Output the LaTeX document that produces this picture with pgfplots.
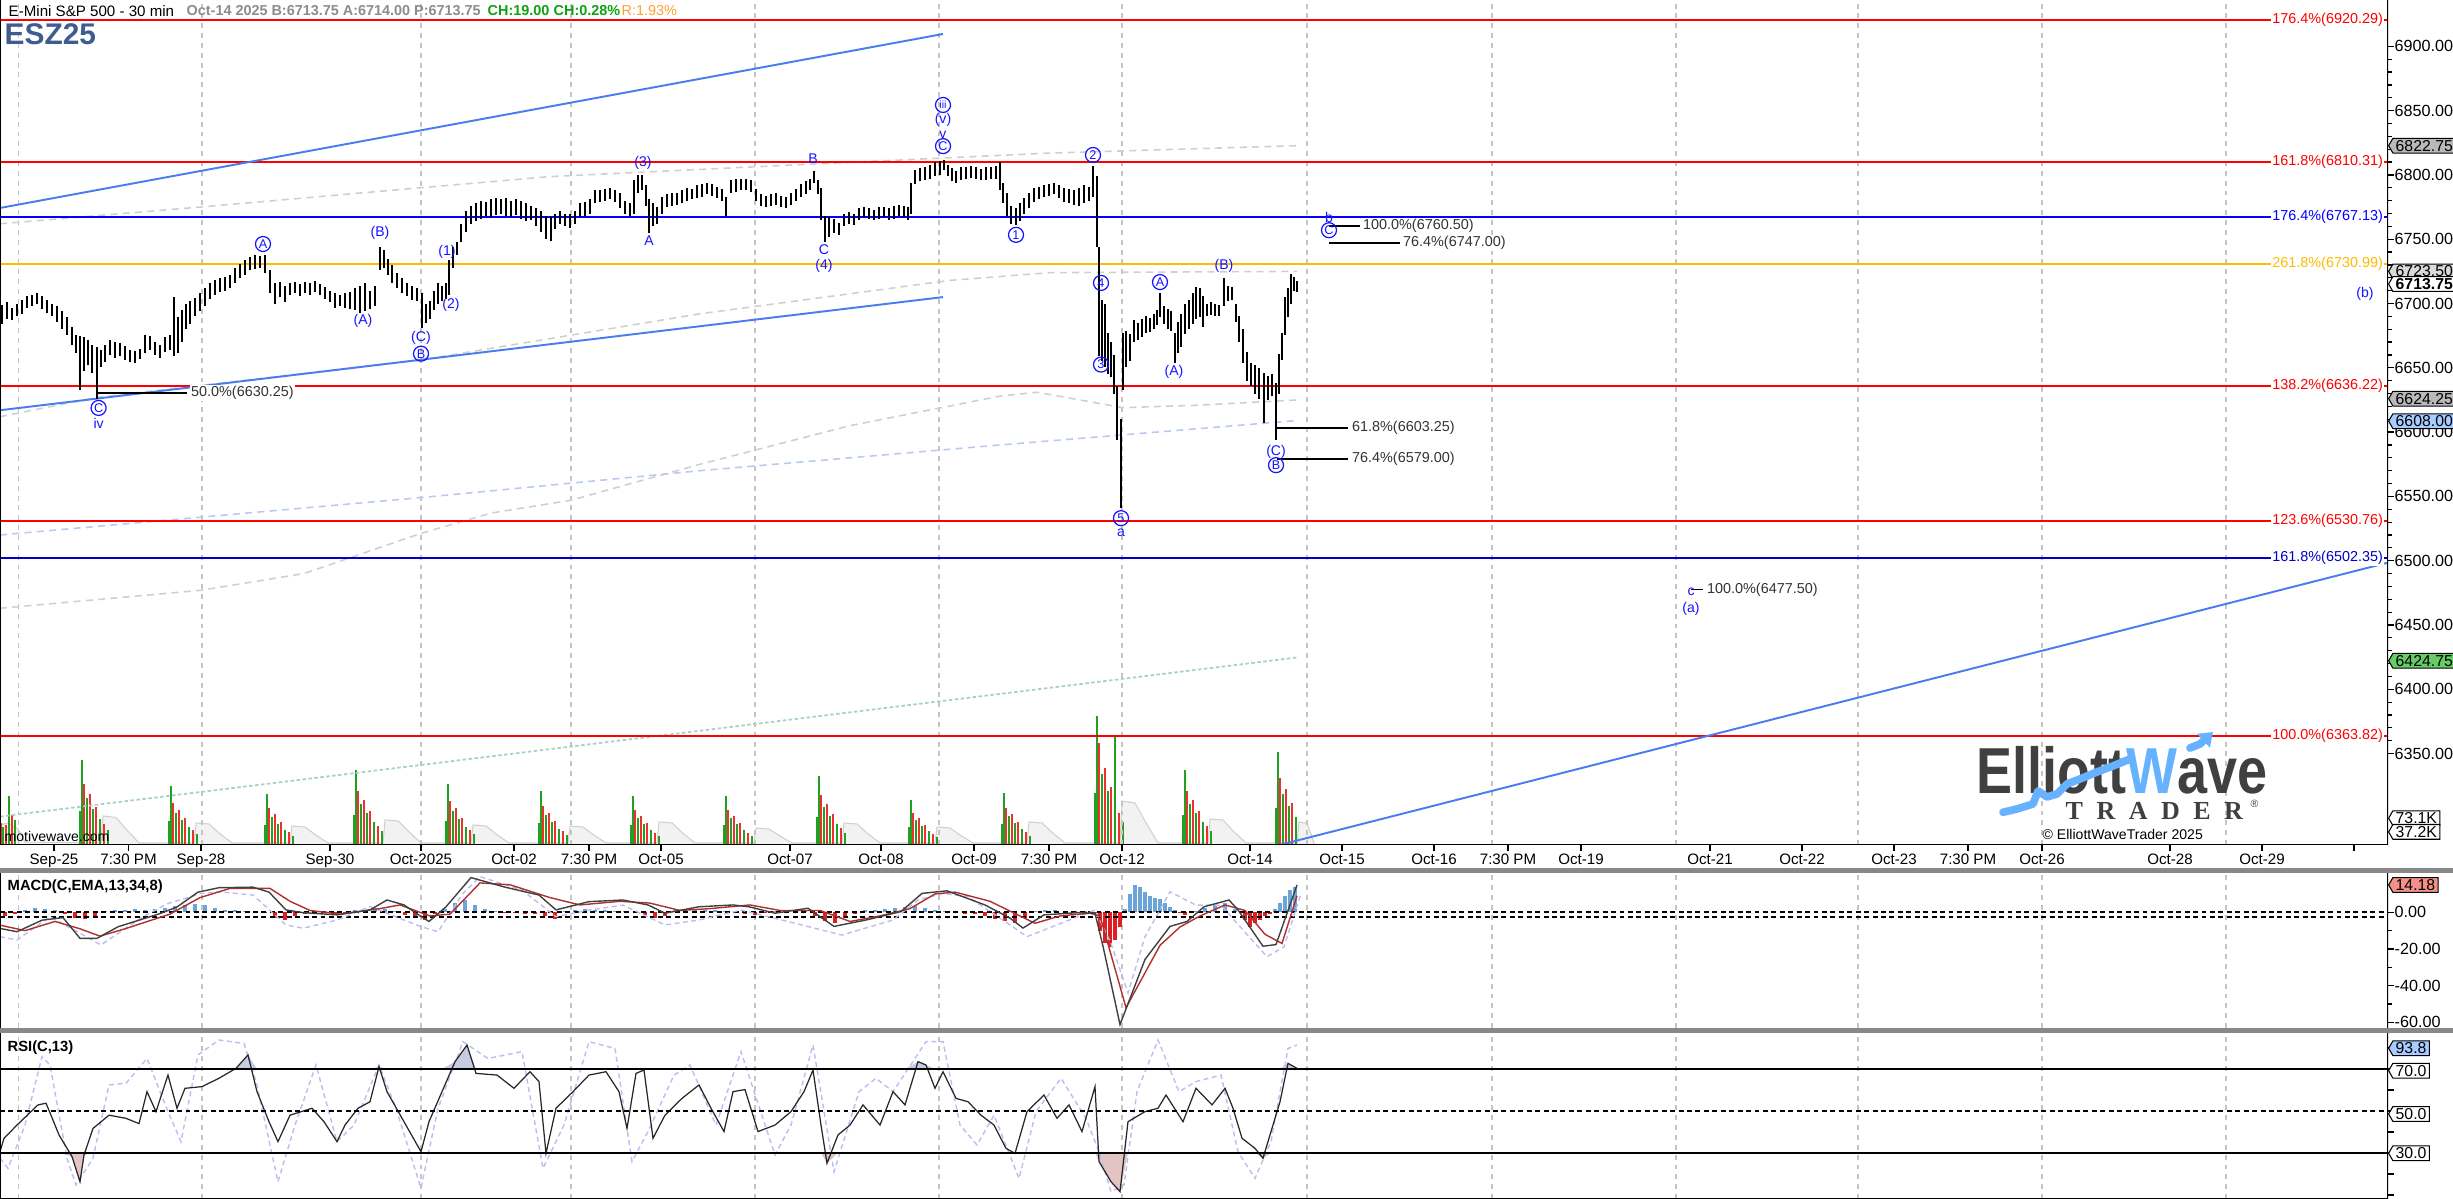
\documentclass[border=0pt]{standalone}
\usepackage{pgfplots}
\pgfplotsset{compat=1.18}
\usepackage{pgfplotstable}
\usepackage{fontspec}
\setmainfont{Liberation Sans}
\setsansfont{Liberation Sans}
\newfontfamily\serifbf{Liberation Serif}
\usetikzlibrary{shapes.symbols,arrows.meta}
\usepgfplotslibrary{fillbetween}

\newcommand\fs[1]{\fontsize{#1}{#1}\selectfont}
\definecolor{wave}{HTML}{1414FF}
\definecolor{fibred}{HTML}{FF0000}
\definecolor{fibblue}{HTML}{0000FF}
\definecolor{fibdblue}{HTML}{0000C8}
\definecolor{fiborange}{HTML}{FFBB00}
\definecolor{chan}{HTML}{4A7BF0}
\definecolor{magray}{HTML}{CFCFCF}
\definecolor{malblue}{HTML}{B8CAF2}
\definecolor{mateal}{HTML}{A4D2C8}
\definecolor{volg}{HTML}{22A022}
\definecolor{volr}{HTML}{F03030}
\definecolor{histb}{HTML}{6AA4D8}
\definecolor{histr}{HTML}{E02020}
\definecolor{sepgray}{HTML}{888888}
\definecolor{hdrgray}{HTML}{8C8C8C}
\definecolor{hdrgreen}{HTML}{10A010}
\definecolor{hdrorange}{HTML}{FFA030}
\definecolor{esz}{HTML}{3F5C8F}
\definecolor{logogray}{HTML}{404040}
\definecolor{logoblue}{HTML}{66B2FF}
\definecolor{gridc}{HTML}{C4C4C4}
\definecolor{hump}{HTML}{F2F2F2}
\definecolor{humpedge}{HTML}{D0D0D0}
\definecolor{taglblue}{HTML}{A8CCFF}
\definecolor{taggreen}{HTML}{66CC66}
\definecolor{tagsalmon}{HTML}{F4908A}
\definecolor{rsiup}{HTML}{C8CCE2}
\definecolor{rsidn}{HTML}{E2C4C4}
\definecolor{rsidash}{HTML}{BCBCF2}
\definecolor{sigred}{HTML}{B03030}
\definecolor{macdblk}{HTML}{404040}

\pgfplotstableread{
x lo hi
2 6684 6699
7 6688 6701
12 6687 6697
17 6690 6700
22 6692 6703
27 6697 6706
32 6698 6707
37 6700 6708
42 6696 6706
47 6693 6703
52 6690 6700
57 6686 6698
62 6680 6694
67 6676 6690
72 6668 6682
76 6662 6676
80 6633 6675
84 6648 6674
88 6652 6672
92 6646 6668
97 6626 6666
101 6651 6664
105 6655 6668
110 6660 6672
115 6658 6670
120 6659 6669
125 6656 6667
130 6655 6664
135 6654 6663
140 6657 6665
145 6662 6676
150 6664 6675
155 6660 6670
160 6658 6668
165 6662 6674
170 6664 6676
174 6659 6705
178 6662 6690
182 6670 6695
186 6680 6700
190 6684 6702
195 6690 6704
200 6694 6708
205 6698 6712
210 6704 6716
215 6707 6718
220 6709 6720
225 6710 6721
230 6712 6722
235 6716 6728
240 6720 6731
245 6722 6734
250 6726 6736
255 6727 6738
260 6728 6737
265 6724 6738
270 6708 6726
275 6700 6716
280 6705 6717
285 6701 6714
290 6707 6716
295 6708 6717
300 6706 6715
305 6708 6717
310 6707 6716
315 6709 6718
320 6707 6715
325 6704 6713
330 6701 6710
335 6697 6708
340 6698 6707
345 6697 6708
350 6696 6709
355 6695 6712
360 6693 6714
365 6694 6716
370 6696 6710
375 6698 6714
380 6726 6744
384 6728 6742
388 6722 6735
392 6716 6730
397 6712 6724
402 6708 6720
407 6706 6716
412 6703 6714
417 6702 6712
422 6681 6708
426 6685 6700
430 6688 6702
434 6695 6710
438 6700 6716
442 6702 6714
446 6704 6716
449 6707 6734
453 6728 6744
457 6738 6748
461 6748 6762
466 6756 6772
471 6762 6776
476 6764 6778
481 6766 6780
486 6768 6779
491 6767 6781
496 6769 6782
501 6770 6781
506 6768 6782
511 6767 6780
516 6769 6781
521 6766 6780
526 6764 6778
531 6765 6776
536 6760 6774
541 6756 6772
546 6750 6768
551 6749 6767
555 6758 6770
560 6762 6772
565 6760 6770
570 6759 6770
575 6762 6772
580 6767 6778
585 6768 6779
590 6770 6781
595 6778 6788
600 6779 6788
605 6780 6789
610 6781 6790
615 6779 6788
620 6774 6786
625 6770 6780
630 6768 6778
634 6770 6796
638 6786 6800
642 6788 6800
646 6776 6792
649 6755 6781
653 6760 6778
657 6762 6775
662 6770 6783
667 6775 6785
672 6776 6786
677 6777 6786
682 6778 6788
687 6780 6790
692 6781 6789
697 6782 6792
702 6783 6793
707 6785 6794
712 6784 6793
717 6782 6791
722 6780 6789
726 6768 6783
731 6786 6796
736 6787 6797
741 6788 6797
746 6788 6797
751 6787 6796
756 6780 6789
761 6776 6785
766 6775 6784
771 6776 6785
776 6777 6786
781 6775 6784
786 6774 6783
791 6777 6786
796 6780 6789
801 6783 6793
806 6785 6795
810 6788 6797
814 6794 6803
818 6785 6796
821 6765 6790
825 6748 6768
829 6752 6767
834 6755 6766
839 6753 6763
844 6760 6770
849 6762 6771
854 6761 6770
859 6765 6774
864 6767 6775
869 6766 6774
874 6765 6773
879 6766 6775
884 6767 6775
889 6765 6774
894 6766 6776
899 6768 6777
904 6767 6776
908 6765 6775
911 6770 6794
915 6793 6804
920 6795 6805
925 6796 6806
930 6797 6808
935 6799 6810
940 6800 6811
944 6804 6812
948 6799 6808
952 6795 6805
956 6794 6803
961 6796 6806
966 6797 6806
971 6798 6807
976 6797 6806
981 6796 6805
986 6796 6806
991 6797 6806
996 6797 6807
1000 6788 6810
1003 6778 6794
1007 6768 6786
1011 6762 6776
1016 6761 6774
1020 6764 6778
1024 6770 6782
1029 6774 6786
1034 6779 6790
1039 6781 6791
1044 6783 6792
1049 6784 6793
1054 6785 6794
1059 6782 6792
1064 6779 6790
1069 6778 6789
1074 6777 6788
1079 6776 6790
1084 6778 6792
1089 6780 6791
1093 6783 6807
1097 6744 6799
1099 6659 6744
1102 6655 6703
1105 6651 6700
1108 6645 6677
1111 6643 6670
1114 6630 6660
1117 6594 6636
1121 6541 6610
1123 6633 6677
1126 6651 6679
1130 6655 6676
1134 6670 6687
1138 6672 6685
1142 6674 6688
1146 6677 6690
1150 6678 6689
1154 6680 6692
1157 6683 6695
1160 6690 6708
1164 6684 6698
1168 6680 6696
1171 6679 6694
1175 6654 6677
1178 6662 6686
1181 6666 6692
1185 6676 6700
1189 6680 6703
1193 6684 6708
1196 6688 6713
1200 6690 6712
1203 6682 6706
1207 6690 6700
1211 6691 6701
1215 6690 6700
1219 6690 6699
1224 6698 6720
1228 6702 6714
1232 6703 6713
1236 6686 6700
1239 6670 6690
1243 6654 6680
1247 6640 6662
1251 6636 6654
1255 6630 6652
1259 6626 6650
1264 6607 6646
1268 6625 6644
1272 6628 6645
1276 6594 6638
1279 6630 6661
1282 6656 6677
1285 6676 6705
1288 6690 6712
1291 6700 6723
1294 6710 6721
1297 6709 6718
}\pricebars

\pgfplotstableread{
x h
3 18
9 49
15 25
80 34
82 85
87 47
93 36
100 26
108 15
169 24
171 59
176 32
182 25
189 18
197 11
265 20
267 51
272 28
278 21
285 15
293 9
354 30
356 75
361 41
367 32
374 23
382 14
446 24
448 61
453 34
459 26
466 18
474 11
539 22
541 54
546 30
552 23
559 16
567 10
631 20
633 49
638 27
644 21
651 15
659 9
724 20
726 49
731 27
737 21
744 15
752 9
817 28
819 69
824 38
830 29
837 21
845 12
909 18
911 45
916 25
922 19
929 14
937 8
1002 21
1004 52
1009 29
1015 22
1022 16
1030 9
1095 52
1097 129
1102 71
1108 54
1115 110
1123 23
1183 30
1185 75
1190 41
1196 32
1203 23
1211 14
1276 37
1278 93
1283 51
1289 39
1296 28
}\volgreen

\pgfplotstableread{
x h
1 22
6 20
12 30
84 61
90 51
96 38
104 21
173 42
179 35
185 27
193 15
269 37
275 31
281 23
289 13
358 54
364 45
370 34
378 19
450 44
456 37
462 27
470 15
543 39
549 32
555 24
563 14
635 35
641 29
647 22
655 12
728 35
734 29
740 22
748 12
821 50
827 41
833 31
841 17
913 32
919 27
925 20
933 11
1006 37
1012 31
1018 23
1026 13
1099 102
1105 77
1111 58
1119 32
1187 54
1193 45
1199 34
1207 19
1280 67
1286 56
1292 42
}\volred

\pgfplotstableread{
x h
0 20
8 22
18 16
25 3
101 2
103 29
116 27.5
126 16
139 2
194 2
196 22
209 21
219 12
232 2
290 2
292 19
305 18
315 10.5
328 2
383 2
385 25
398 24
408 14
421 2
471 2
473 20
486 19
496 11
509 2
568 2
570 19
583 18
593 10.5
606 2
657 2
659 23
672 22
682 12.5
695 2
754 2
756 17
769 16
779 9.5
792 2
842 2
844 22
857 21
867 12
880 2
935 2
937 18
950 17
960 10
973 2
1027 2
1029 23
1042 22
1052 12.5
1065 2
1120 2
1122 44
1135 42
1145 24
1158 2
1208 2
1210 26
1223 25
1233 14
1246 2
1297 2
1299 23
1307 22
1314 2
}\humps

\pgfplotstableread{
x v
0 -8.8
17 -10.6
42 -4.3
63 -2.9
80 -14.2
97 -14.2
118 -7.9
160 -0.7
177 2.9
198 11
219 13.4
253 13.7
269 11
286 1.3
303 -0.2
337 -1.4
370 1.3
387 6.7
404 4
421 -2.3
429 -5
446 3
471 18.9
505 13.7
539 9.4
556 1.3
589 5.8
623 6.7
648 4
665 -0.5
699 3
733 4
749 3
775 -0.5
808 2.2
834 -7.7
867 -4.1
901 0.4
922 10.3
947 11.7
985 4
1010 -3.2
1023 -8.6
1044 -1.4
1078 -0.2
1095 -0.5
1103 -18.5
1120 -61.2
1145 -25.7
1170 -7.7
1187 -5
1204 3
1229 6.7
1238 1.3
1263 -18.5
1276 -17.6
1297 14.9
}\macdline

\pgfplotstableread{
x v
0 -7
25 -10
55 -5
80 -9
100 -13
125 -9
170 -1
200 8
230 13
270 13
290 6
310 1
340 -1
380 2
400 4
430 -2
450 -1
480 16
510 15
550 8
580 4
620 6
650 5
680 1
710 2
750 4
780 1
820 1
850 -5
880 -2
910 2
935 10
955 11
990 6
1020 -2
1035 -6
1060 -2
1090 -0.5
1100 -2
1112 -25
1126 -52
1140 -38
1160 -18
1180 -8
1200 -2
1225 4
1245 1
1265 -12
1282 -17
1297 9
}\signalline

\pgfplotstableread{
x v
0 -13.3
17 -15.1
50 -2.4
101 -17.8
143 -2.4
168 4.8
202 10.3
219 11.2
253 9.4
286 -6.9
303 -8.7
337 -4.2
370 3.1
404 -4.2
421 -7.8
438 -10.6
463 10.3
480 19.4
522 12.1
556 -2.4
589 1.2
623 3.9
665 -6.9
699 -4.2
741 1.2
775 -3.3
842 -12.4
893 -4.2
918 6.7
943 10.3
968 8.5
1010 -6.9
1027 -13.3
1061 -6
1095 1.2
1111 -17
1128 -44
1145 -13.3
1170 11.2
1196 3.9
1221 3.9
1246 -11.5
1267 -24.2
1284 -18.8
1301 10.3
}\macddash

\pgfplotstableread{
x h
5 -2
15 -1
25 1.5
35 2.5
45 2
55 1.5
65 -1
75 -3
85 -3.5
95 -2
105 0.5
115 1
125 1.5
135 2
145 1.5
155 2
165 2.5
175 3.5
185 4
195 4.5
205 4
215 2.5
225 1.5
235 1
245 0.5
255 0.5
265 -0.5
275 -3
285 -4
295 -2
305 -1
315 -0.5
325 0.5
335 -0.5
345 -1
355 1
365 1.5
375 2.5
385 2
395 0.5
405 -1.5
415 -3
425 -4
435 -1
445 2
455 5
465 6.5
475 4
485 2
495 0.5
505 -0.5
515 -0.5
525 -1
535 -1
545 -2
555 -3.5
565 0.5
575 1.5
585 2
595 1.5
605 1
615 0.5
625 0.5
635 -0.5
645 -1.5
655 -3
665 -2
675 1
685 2
695 2
705 1.5
715 1
725 0.5
735 -0.5
745 -1
755 -1.5
765 -0.5
775 0.5
785 1
795 1.5
805 0.5
815 -2
825 -5
835 -6
845 -3
855 -1
865 1
875 1.5
885 2
895 2.5
905 3
915 3.5
925 2.5
935 1
945 0.5
955 -0.5
965 -1
975 -1
985 -2
995 -3.5
1005 -5
1015 -6
1025 -3
1035 0.5
1045 1.5
1055 1
1065 0.5
1075 0.5
1085 0.5
1095 -1
1100 -10
1105 -17
1110 -19
1115 -15
1120 -8
1125 2
1130 10
1135 15
1140 14
1145 11
1150 9
1155 8
1160 7
1165 5
1170 3
1175 1
1180 -0.5
1185 -1.5
1195 0.5
1205 2.5
1215 4
1225 5
1235 2
1245 -4
1250 -8
1255 -6
1260 -4
1265 -2
1270 -1
1275 2
1280 5
1285 9
1290 12
1295 14
}\histdata

\pgfplotstableread{
x v
0 30.6
4 37
17 43.3
38 52.9
46 53.7
51 48
59 38.6
72 28.3
80 16.3
84 29
93 41.7
109 48
126 46.5
139 44
147 59.2
156 49.7
168 67.1
177 51.3
185 60.8
202 61.6
219 65.6
236 70.3
248 76.7
257 59.2
269 44.9
278 35.4
290 48
312 51.3
324 44.9
337 35.4
345 43.3
358 51.3
370 54.4
379 71.1
387 59.2
404 44.9
421 30.6
429 44.9
442 59.2
455 73.5
467 81.4
476 67.9
497 67.1
514 60.8
530 68.7
539 64
546 29.8
556 51.3
573 59.2
589 67.1
606 68.7
619 59.2
627 41.7
636 67.9
644 69.5
653 37
665 48
682 56
699 62.4
711 51.3
724 40.2
733 59.2
745 60.2
758 40.2
775 43.3
791 49.7
804 59.2
813 69.5
821 43.3
827 25.1
838 38.6
850 43.3
863 52.9
880 43.3
893 59.2
905 52.9
918 73.5
926 71.9
935 60.8
943 68.7
956 56
968 54.4
981 48
994 43.3
1006 32.2
1015 29.8
1027 49.7
1044 57.6
1057 46.5
1069 52.9
1082 40.2
1095 61.6
1099 25.9
1111 16.3
1120 11.6
1128 44.9
1145 49.7
1158 51.3
1166 57.6
1183 44.9
1196 60.8
1212 52.9
1225 60.8
1233 51.3
1242 37
1255 32.2
1263 27.5
1271 40.2
1280 54.4
1288 72.7
1297 70.3
}\rsidata

\pgfplotstableread{
x v
0 27.5
8 22.7
25 43.3
42 75.9
50 71.9
67 27.5
76 14.8
93 27.5
109 62.4
126 63.2
147 75
168 49.7
181 35.4
198 76.7
219 83.8
244 82.2
257 62.4
278 16.3
295 43.3
316 71.9
337 35.4
354 43.3
379 71.9
396 51.3
421 13.2
438 51.3
463 83
488 75
522 78.3
543 22.7
564 43.3
589 83
615 79.8
632 25.9
648 40.2
674 67.1
690 71.9
716 43.3
741 78.3
775 29
791 43.3
813 81.4
834 21.1
859 59.2
876 65.6
893 59.2
926 83
943 83
960 43.3
977 33.8
994 48
1019 17.9
1036 49.7
1061 65.6
1086 46.5
1099 30.6
1111 11.6
1124 14.8
1137 59.2
1158 83.8
1179 59.2
1196 64
1221 67.1
1238 30.6
1255 17.9
1271 35.4
1288 79.8
1297 81.4
}\rsidash

\pgfplotsset{
  panel/.style={scale only axis, width=23.88cm, xmin=0, xmax=2388, anchor=south west,
    axis line style={draw=none}, /pgf/number format/assume math mode=true,
    tick align=outside, tick style={black, line width=0.35pt},
    major tick length=0.06cm, minor tick length=0.035cm, scaled ticks=false},
  vgrid/.style={extra x ticks={18.5,202,421,571,755,939,1122,1307,1492,1676,1858,2042,2226},
    extra x tick labels={},
    extra x tick style={grid=major, major tick length=0pt,
      major grid style={gridc, dash pattern=on 1.4pt off 1.4pt, line width=0.35pt}}},
}
\tikzset{
  circ/.style={circle, draw=wave, text=wave, inner sep=0pt, minimum size=0.15cm, line width=0.35pt, font=\fs{3.6}},
  wl/.style={text=wave, inner sep=0pt, font=\fs{4}},
  fibl/.style={anchor=west, fill=white, inner sep=0.4pt, font=\fs{4.1}, text=black!80},
  fibr/.style={anchor=east, fill=white, inner sep=0.4pt, font=\fs{4.1}},
  tag/.style={signal, signal to=west, signal pointer angle=120, draw=black, line width=0.3pt,
    inner xsep=0.8pt, inner ysep=0.5pt, anchor=west, font=\fs{4.5}},
}

\begin{document}
\begin{tikzpicture}
% ---------------- volume (background of price panel)
\begin{axis}[panel, at={(0cm,3.54cm)}, height=8.45cm, ymin=0, ymax=845, hide axis]
\addplot[fill=hump, draw=humpedge, line width=0.3pt] table[x=x,y=h] {\humps} \closedcycle;
\addplot[ycomb, volg, line width=0.45pt, mark=none] table[x=x,y=h] {\volgreen};
\addplot[ycomb, volr, line width=0.45pt, mark=none] table[x=x,y=h] {\volred};
\end{axis}

% ---------------- price panel
\begin{axis}[panel, at={(0cm,3.54cm)}, height=8.45cm, ymin=6278.93, ymax=6936.06, vgrid,
  xtick={54,128.5,201,330,421,514,589,661,790,881,974,1049,1122,1250,1342,1434,1508,1581,1710,1802,1894,1968,2042,2170,2262,2354},
  xticklabels={Sep-25,7:30 PM,Sep-28,Sep-30,Oct-2025,Oct-02,7:30 PM,Oct-05,Oct-07,Oct-08,Oct-09,7:30 PM,Oct-12,Oct-14,Oct-15,Oct-16,7:30 PM,Oct-19,Oct-21,Oct-22,Oct-23,7:30 PM,Oct-26,Oct-28,Oct-29,{}},
  xtick pos=bottom,
  xticklabel style={font=\fs{4.3}, inner sep=0pt, yshift=-0.02cm},
  ytick={6350,6400,...,6900}, minor y tick num=4, ytick pos=right, yticklabel pos=right,
  yticklabel style={font=\fs{4.6}, inner sep=0pt, anchor=west, /pgf/number format/.cd, fixed, fixed zerofill, precision=2, 1000 sep={}}]
% moving averages
\addplot[magray, line width=0.45pt, dash pattern=on 2pt off 1.5pt] coordinates {(0,6762) (200,6775) (420,6790) (550,6798.7) (800,6808) (1050,6817) (1297,6822.75)};
\addplot[magray, line width=0.45pt, dash pattern=on 2pt off 1.5pt] coordinates {(0,6612) (97,6627) (420,6656) (700,6692) (950,6718) (1050,6724) (1297,6725)};
\addplot[magray, line width=0.45pt, dash pattern=on 2pt off 1.5pt] coordinates {(0,6463) (201,6477) (304,6490) (420,6521) (491,6537) (571,6547) (700,6575) (850,6605) (1000,6628) (1037,6631) (1123,6619) (1200,6621) (1297,6625)};
\addplot[malblue, line width=0.45pt, dash pattern=on 2pt off 1.5pt] coordinates {(0,6520) (420,6549) (700,6570) (1000,6590) (1297,6609)};
\addplot[mateal, line width=0.5pt, dash pattern=on 1pt off 0.7pt] coordinates {(0,6301) (1297,6424.75)};
% fib horizontals
\addplot[fibred, line width=0.55pt] coordinates {(0,6920.29) (2388,6920.29)};
\addplot[fibred, line width=0.55pt] coordinates {(0,6810.31) (2388,6810.31)};
\addplot[fibblue, line width=0.55pt] coordinates {(0,6767.13) (2388,6767.13)};
\addplot[fiborange, line width=0.55pt] coordinates {(0,6730.99) (2388,6730.99)};
\addplot[fibred, line width=0.55pt] coordinates {(0,6636.22) (2388,6636.22)};
\addplot[fibred, line width=0.55pt] coordinates {(0,6530.76) (2388,6530.76)};
\addplot[fibdblue, line width=0.55pt] coordinates {(0,6502.35) (2388,6502.35)};
\addplot[fibred, line width=0.55pt] coordinates {(0,6363.82) (2388,6363.82)};
% channel lines
\addplot[chan, line width=0.55pt] coordinates {(0,6774.3) (943,6909.6)};
\addplot[chan, line width=0.55pt] coordinates {(0,6617) (943,6705)};
\addplot[chan, line width=0.55pt] coordinates {(1280,6279) (2388,6498.5)};
% price bars
\addplot[draw=none, mark=none, error bars/.cd, y dir=both, y explicit, error mark=none,
  error bar style={black, line width=0.5pt}]
  table[x=x, y expr={(\thisrow{lo}+\thisrow{hi})/2}, y error expr={(\thisrow{hi}-\thisrow{lo})/2}] {\pricebars};
% black fib projections
\addplot[black, line width=0.45pt] coordinates {(98,6630.25) (187,6630.25)};
\addplot[black, line width=0.45pt] coordinates {(1329,6760.5) (1360,6760.5)};
\addplot[black, line width=0.45pt] coordinates {(1329,6747) (1400,6747)};
\addplot[black, line width=0.45pt] coordinates {(1277,6603.25) (1348,6603.25)};
\addplot[black, line width=0.45pt] coordinates {(1277,6579) (1348,6579)};
\addplot[black, line width=0.45pt] coordinates {(1691,6477.5) (1703,6477.5)};
\node[fibl] at (axis cs:189,6630.25) {50.0\%(6630.25)};
\node[fibl] at (axis cs:1361,6760.5) {100.0\%(6760.50)};
\node[fibl] at (axis cs:1401,6747) {76.4\%(6747.00)};
\node[fibl] at (axis cs:1350,6603.25) {61.8\%(6603.25)};
\node[fibl] at (axis cs:1350,6579) {76.4\%(6579.00)};
\node[fibl] at (axis cs:1705,6477.5) {100.0\%(6477.50)};
% right fib labels
\node[fibr, text=fibred] at (axis cs:2385,6920.29) {176.4\%(6920.29)};
\node[fibr, text=fibred] at (axis cs:2385,6810.31) {161.8\%(6810.31)};
\node[fibr, text=fibblue] at (axis cs:2385,6767.13) {176.4\%(6767.13)};
\node[fibr, text=fiborange] at (axis cs:2385,6730.99) {261.8\%(6730.99)};
\node[fibr, text=fibred] at (axis cs:2385,6636.22) {138.2\%(6636.22)};
\node[fibr, text=fibred] at (axis cs:2385,6530.76) {123.6\%(6530.76)};
\node[fibr, text=fibdblue] at (axis cs:2385,6502.35) {161.8\%(6502.35)};
\node[fibr, text=fibred] at (axis cs:2385,6363.82) {100.0\%(6363.82)};
% wave labels
\node[circ] at (axis cs:98.6,6618.8) {C};
\node[wl] at (axis cs:98.6,6607) {iv};
\node[circ] at (axis cs:263,6746.3) {A};
\node[wl] at (axis cs:363,6686.5) {(A)};
\node[wl] at (axis cs:380,6754.9) {(B)};
\node[wl] at (axis cs:421,6673) {(C)};
\node[circ] at (axis cs:421,6661) {B};
\node[wl] at (axis cs:447,6740) {(1)};
\node[wl] at (axis cs:451,6699) {(2)};
\node[wl] at (axis cs:643,6809.3) {(3)};
\node[wl] at (axis cs:649,6748.6) {A};
\node[wl] at (axis cs:813,6813) {B};
\node[wl] at (axis cs:824,6741.6) {C};
\node[wl] at (axis cs:824,6729) {(4)};
\node[circ, font=\fs{3}] at (axis cs:943,6854.4) {iii};
\node[wl] at (axis cs:943,6842.6) {(v)};
\node[wl] at (axis cs:943,6831) {v};
\node[circ] at (axis cs:943,6822.4) {C};
\node[circ] at (axis cs:1016,6753.4) {1};
\node[circ] at (axis cs:1093,6815.5) {2};
\node[circ] at (axis cs:1101,6716) {4};
\node[circ] at (axis cs:1101,6652.5) {3};
\node[circ] at (axis cs:1121,6533.1) {5};
\node[wl] at (axis cs:1121,6522) {a};
\node[circ] at (axis cs:1160,6716.7) {A};
\node[wl] at (axis cs:1174,6646.8) {(A)};
\node[wl] at (axis cs:1224,6729) {(B)};
\node[wl] at (axis cs:1276,6585) {(C)};
\node[circ] at (axis cs:1276,6574.3) {B};
\node[wl] at (axis cs:1329,6767.3) {b};
\node[circ] at (axis cs:1329,6757) {C};
\node[wl] at (axis cs:2365,6707.4) {(b)};
\node[wl] at (axis cs:1691,6476) {c};
\node[wl] at (axis cs:1691,6462.5) {(a)};
% frame
\draw[black, line width=0.6pt] (rel axis cs:0,0) -- (rel axis cs:0,1);
\draw[black, line width=0.6pt] (rel axis cs:0,0) -- (rel axis cs:1,0);
\draw[black, line width=0.6pt] (rel axis cs:1,0) -- (rel axis cs:1,1);
\end{axis}

% ---------------- MACD panel
\begin{axis}[panel, at={(0cm,1.71cm)}, height=1.55cm, ymin=-63.06, ymax=21.42, vgrid,
  xtick=\empty, ytick={-60,-40,-20,0}, minor y tick num=1, ytick pos=right, yticklabel pos=right,
  yticklabel style={font=\fs{4.6}, inner sep=0pt, anchor=west, /pgf/number format/.cd, fixed, fixed zerofill, precision=2}]
\addplot[ycomb, histb, line width=1.1pt, mark=none, restrict y to domain=0:100] table[x=x,y=h] {\histdata};
\addplot[ycomb, histr, line width=1.1pt, mark=none, restrict y to domain=-100:0] table[x=x,y=h] {\histdata};
\addplot[black, line width=0.5pt, dash pattern=on 1.4pt off 1pt] coordinates {(0,0) (2388,0)};
\addplot[black, line width=0.5pt, dash pattern=on 1.4pt off 1pt] coordinates {(0,-2.7) (2388,-2.7)};
\addplot[rsidash, line width=0.4pt, dash pattern=on 1.4pt off 1pt] table[x=x,y=v] {\macddash};
\addplot[sigred, line width=0.4pt] table[x=x,y=v] {\signalline};
\addplot[macdblk, line width=0.4pt] table[x=x,y=v] {\macdline};
\draw[black, line width=0.6pt] (rel axis cs:0,0) -- (rel axis cs:0,1);
\draw[black, line width=0.6pt] (rel axis cs:1,0) -- (rel axis cs:1,1);
\end{axis}

% ---------------- RSI panel
\begin{axis}[panel, at={(0cm,0cm)}, height=1.66cm, ymin=8.1, ymax=87.14, vgrid,
  xtick=\empty, ytick={10,20,30,40,50,60,70,80}, yticklabels={}, ytick pos=right]
\addplot[rsidash, line width=0.4pt, dash pattern=on 1.4pt off 1pt] table[x=x,y=v] {\rsidash};
\addplot[name path=rsihi, draw=none] table[x=x, y expr={max(\thisrow{v},70)}] {\rsidata};
\addplot[name path=rsilo, draw=none] table[x=x, y expr={min(\thisrow{v},30)}] {\rsidata};
\addplot[name path=l70, draw=none] coordinates {(0,70) (1297,70)};
\addplot[name path=l30, draw=none] coordinates {(0,30) (1297,30)};
\addplot[fill=rsiup, draw=none] fill between[of=rsihi and l70];
\addplot[fill=rsidn, draw=none] fill between[of=rsilo and l30];
\addplot[black!85, line width=0.35pt] table[x=x,y=v] {\rsidata};
\addplot[black, line width=0.55pt] coordinates {(0,70) (2388,70)};
\addplot[black, line width=0.55pt] coordinates {(0,30) (2388,30)};
\addplot[black, line width=0.5pt, dash pattern=on 1.4pt off 1pt] coordinates {(0,50) (2388,50)};
\draw[black, line width=0.6pt] (rel axis cs:0,0) -- (rel axis cs:0,1);
\draw[black, line width=0.6pt] (rel axis cs:1,0) -- (rel axis cs:1,1);
\draw[black, line width=0.8pt] (rel axis cs:0,0) -- (rel axis cs:1,0);
\end{axis}

% ---------------- separators
\fill[sepgray] (0,3.26) rectangle (24.53,3.31);
\fill[sepgray] (0,1.66) rectangle (24.53,1.71);

% ---------------- header texts
\node[anchor=west, inner sep=0pt, font=\fs{4.3}] at (0.08,11.88) {E-Mini S\&P 500 - 30 min};
\node[anchor=west, inner sep=0pt, font=\bfseries\fs{4.1}, text=hdrgray] at (1.86,11.88) {Oct-14 2025 B:6713.75 A:6714.00 P:6713.75};
\node[anchor=west, inner sep=0pt, font=\bfseries\fs{4.1}, text=hdrgreen] at (4.87,11.88) {CH:19.00};
\node[anchor=west, inner sep=0pt, font=\bfseries\fs{4.1}, text=hdrgreen] at (5.53,11.88) {CH:0.28\%};
\node[anchor=west, inner sep=0pt, font=\fs{4.1}, text=hdrorange] at (6.21,11.88) {R:1.93\%};
\node[anchor=west, inner sep=0pt, font=\bfseries\fs{8.5}, text=esz] at (0.04,11.645) {ESZ25};
\node[anchor=west, inner sep=0pt, font=\fs{4}] at (0.04,3.63) {motivewave.com};
\node[anchor=west, inner sep=0pt, font=\fs{4}] at (20.42,3.645) {\textcopyright{} ElliottWaveTrader 2025};
\node[anchor=west, inner sep=0pt, font=\bfseries\fs{4.2}] at (0.07,3.12) {MACD(C,EMA,13,34,8)};
\node[anchor=west, inner sep=0pt, font=\bfseries\fs{4.2}] at (0.07,1.51) {RSI(C,13)};

% ---------------- logo
\node[anchor=base west, inner sep=0pt, font=\bfseries\fs{18.5}, text=logogray, xscale=0.83] at (19.76,4.05) {Elliott\textcolor{logoblue}{W}ave};
\node[anchor=base west, inner sep=0pt, font=\serifbf\bfseries\fs{7.4}, text=logogray] at (20.65,3.795) {T\hspace{0.135cm}R\hspace{0.135cm}A\hspace{0.135cm}D\hspace{0.135cm}E\hspace{0.135cm}R};
\node[anchor=west, inner sep=0pt, font=\fs{3}, text=logogray] at (22.50,3.95) {\textregistered};
\draw[logoblue, line width=2.2pt, line cap=round, line join=round] (20.03,3.867) -- (20.17,3.90) -- (20.33,3.95) -- (20.38,4.08) -- (20.47,4.02) -- (20.57,4.05) -- (20.67,4.15) -- (20.80,4.20) -- (20.97,4.27) -- (21.13,4.33) -- (21.30,4.40);
\draw[logoblue, line width=2.2pt, line cap=round, -{Triangle[length=0.13cm, width=0.18cm]}] (21.90,4.51) -- (22.00,4.55) -- (22.13,4.67);

% ---------------- right tags
\node[tag, fill=gray!55] at (23.88,10.533) {6822.75};
\node[tag, fill=gray!30] at (23.88,9.275) {6723.50};
\node[tag, fill=white, font=\bfseries\fs{4.5}] at (23.88,9.149) {6713.75};
\node[tag, fill=gray!55] at (23.88,8.003) {6624.25};
\node[tag, fill=taglblue] at (23.88,7.778) {6608.00};
\node[tag, fill=taggreen] at (23.88,5.382) {6424.75};
\node[tag, fill=white] at (23.88,3.808) {73.1K};
\node[tag, fill=white] at (23.88,3.671) {37.2K};
\node[tag, fill=tagsalmon] at (23.88,3.14) {14.18};
\node[tag, fill=taglblue] at (23.88,1.507) {93.8};
\node[tag, fill=white] at (23.88,1.283) {70.0};
\node[tag, fill=white] at (23.88,0.85) {50.0};
\node[tag, fill=white] at (23.88,0.457) {30.0};

\pgfresetboundingbox
\path[use as bounding box] (0,0) rectangle (24.53,11.99);
\end{tikzpicture}
\end{document}
